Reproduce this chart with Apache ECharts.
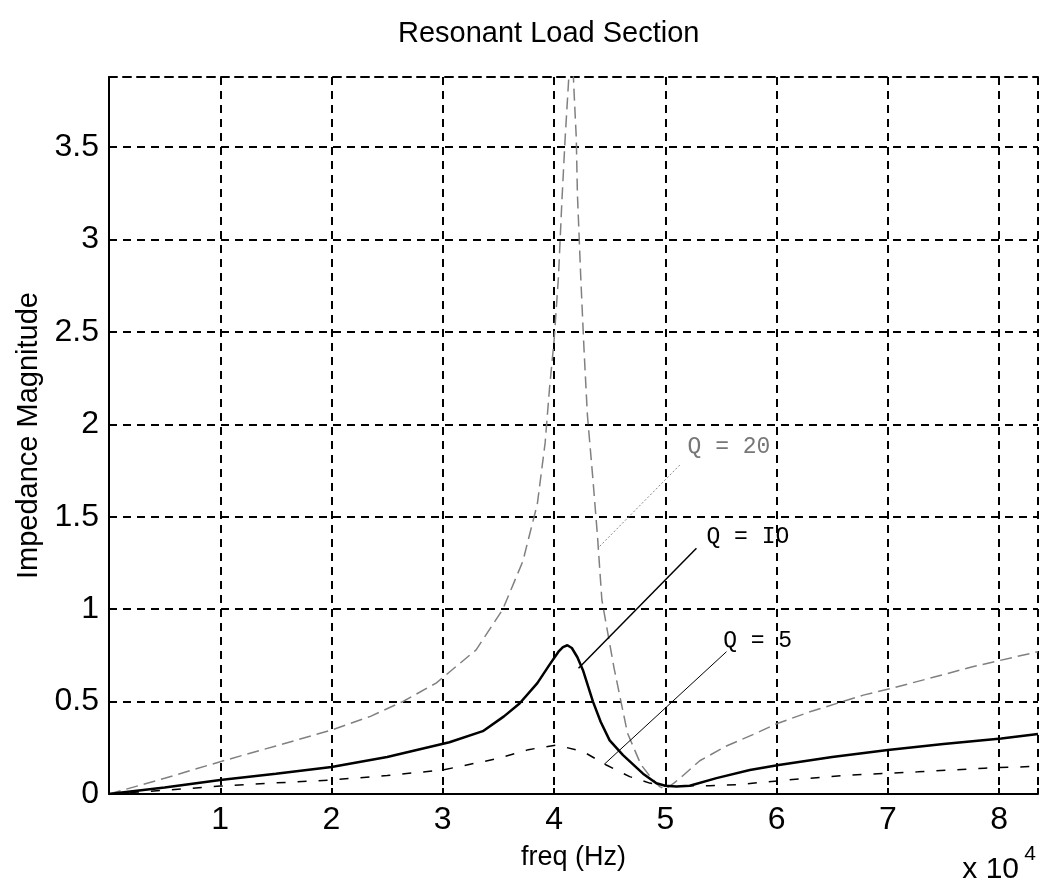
<!DOCTYPE html>
<html>
<head>
<meta charset="utf-8">
<title>Resonant Load Section</title>
<script src="https://cdn.jsdelivr.net/npm/echarts@6/dist/echarts.min.js"></script>
<style>
  html, body { margin: 0; padding: 0; background: #fff; }
  #chart { width: 1047px; height: 891px; }
</style>
</head>
<body>
<div id="chart"></div>
<script>
// freq in units of 1e4 Hz, impedance magnitude
var q20 = [[0,0],[0.5,0.085],[1,0.175],[1.5,0.26],[2,0.346],[2.35,0.42],[2.64,0.5],[2.94,0.6],[3.3,0.78],[3.54,1.0],[3.72,1.26],[3.85,1.57],[3.92,1.9],[3.96,2.2],[4.0,2.45],[4.04,2.8],[4.07,3.2],[4.1,3.55],[4.13,3.85],[4.155,4.15],[4.18,3.8],[4.2,3.55],[4.21,3.25],[4.24,2.8],[4.27,2.4],[4.3,2.05],[4.35,1.7],[4.39,1.4],[4.43,1.05],[4.54,0.68],[4.66,0.33],[4.78,0.16],[4.87,0.09],[4.95,0.04],[5.0,0.025],[5.08,0.06],[5.16,0.1],[5.31,0.18],[5.55,0.26],[5.82,0.33],[6.0,0.38],[6.3,0.445],[6.78,0.535],[7.02,0.57],[7.4,0.63],[7.77,0.69],[8.35,0.77]];
var q10 = [[0,0],[0.5,0.035],[1,0.076],[1.5,0.11],[2,0.146],[2.5,0.2],[3.06,0.28],[3.36,0.34],[3.55,0.42],[3.69,0.49],[3.85,0.6],[3.96,0.7],[4.04,0.77],[4.08,0.795],[4.12,0.805],[4.16,0.79],[4.21,0.74],[4.26,0.67],[4.35,0.5],[4.42,0.39],[4.5,0.29],[4.62,0.21],[4.8,0.11],[4.92,0.058],[5.0,0.045],[5.1,0.04],[5.22,0.045],[5.46,0.086],[5.76,0.13],[6.02,0.157],[6.5,0.2],[7.0,0.238],[7.5,0.27],[8.02,0.3],[8.35,0.325]];
var q5 = [[0,0],[0.5,0.02],[1,0.043],[1.5,0.06],[2,0.076],[2.5,0.1],[3.0,0.13],[3.48,0.19],[3.77,0.24],[4.02,0.265],[4.26,0.23],[4.47,0.157],[4.68,0.094],[4.86,0.059],[5.0,0.045],[5.4,0.045],[5.64,0.05],[6.1,0.076],[6.67,0.103],[7.27,0.12],[7.87,0.14],[8.35,0.15]];

// annotation text and leader lines (data coords)
var labels = ['Q = 20', 'Q = IO', 'Q = 5'];
var labelPos = [[5.2, 1.88], [5.37, 1.39], [5.52, 0.83]];
var leaders = [[[5.13, 1.78], [4.41, 1.34]], [[5.28, 1.33], [4.22, 0.68]], [[5.55, 0.77], [4.45, 0.16]]];

var xTicks = [1, 2, 3, 4, 5, 6, 7, 8];
var yTicks = [0, 0.5, 1, 1.5, 2, 2.5, 3, 3.5];

var font = '"Liberation Sans Narrow", "Liberation Sans", Arial, sans-serif';
var mono = '"Liberation Mono", "DejaVu Sans Mono", monospace';
var labelColors = ['#777777', '#000000', '#000000'];
var leaderStyles = [
  { color: '#888888', width: 1, type: [2, 2] },
  { color: '#000000', width: 1.5, type: 'solid' },
  { color: '#000000', width: 1, type: 'solid' }
];

var chart = echarts.init(document.getElementById('chart'));

function annotSeries(i) {
  return {
    type: 'line',
    data: [],
    silent: true,
    markLine: {
      symbol: 'none',
      silent: true,
      label: { show: false },
      lineStyle: leaderStyles[i],
      data: [[{ coord: leaders[i][0] }, { coord: leaders[i][1] }]]
    },
    markPoint: {
      symbol: 'circle',
      symbolSize: 0,
      silent: true,
      label: {
        show: true,
        position: 'right',
        distance: 0,
        formatter: labels[i],
        fontFamily: mono,
        fontSize: 23,
        color: labelColors[i]
      },
      data: [{ coord: labelPos[i] }]
    }
  };
}

var option = {
  animation: false,
  backgroundColor: '#fff',
  title: {
    text: 'Resonant Load Section',
    left: 393,
    top: 14,
    textStyle: { fontFamily: font, fontWeight: 'normal', fontSize: 29, color: '#000' }
  },
  grid: { left: 109, right: 9, top: 77, bottom: 97 },
  xAxis: [{
    type: 'value',
    min: 0,
    max: 8.35,
    interval: 1,
    name: 'freq (Hz)',
    nameLocation: 'middle',
    nameGap: 50,
    nameTextStyle: { fontFamily: font, fontSize: 27, color: '#000' },
    axisLine: { show: true, lineStyle: { color: '#000', width: 2 } },
    axisTick: { show: true, inside: true, length: 6, lineStyle: { color: '#000', width: 2 } },
    axisLabel: {
      fontFamily: font, fontSize: 32, color: '#000', margin: 10,
      formatter: function (v) { return xTicks.indexOf(v) >= 0 ? String(v) : ''; }
    },
    splitLine: { show: true, lineStyle: { color: '#000', width: 2, type: [8, 6] } }
  }, {
    type: 'value',
    position: 'top',
    min: 0,
    max: 8.35,
    interval: 1,
    axisLine: { show: true, lineStyle: { color: '#000', width: 2, type: [8, 6] } },
    axisTick: { show: true, inside: true, length: 6, lineStyle: { color: '#000', width: 2 } },
    axisLabel: { show: false },
    splitLine: { show: false }
  }],
  yAxis: {
    type: 'value',
    min: 0,
    max: 3.88,
    interval: 0.5,
    name: 'Impedance Magnitude',
    nameLocation: 'middle',
    nameGap: 66,
    nameRotate: 90,
    nameTextStyle: { fontFamily: font, fontSize: 29, color: '#000' },
    axisLine: { show: true, lineStyle: { color: '#000', width: 2 } },
    axisTick: { show: true, inside: true, length: 6, lineStyle: { color: '#000', width: 2 } },
    axisLabel: {
      fontFamily: font, fontSize: 32, color: '#000', margin: 10,
      formatter: function (v) { return yTicks.indexOf(v) >= 0 ? String(v) : ''; }
    },
    splitLine: { show: true, lineStyle: { color: '#000', width: 2, type: [8, 6] } }
  },
  series: [
    {
      name: 'Q = 20', type: 'line', data: q20, showSymbol: false, clip: true,
      lineStyle: { color: '#808080', width: 1.5, type: [12, 6] }
    },
    {
      name: 'Q = 10', type: 'line', data: q10, showSymbol: false, clip: true,
      lineStyle: { color: '#000', width: 2.5, type: 'solid' }
    },
    {
      name: 'Q = 5', type: 'line', data: q5, showSymbol: false, clip: true,
      lineStyle: { color: '#000', width: 1.5, type: [9, 12] }
    },
    annotSeries(0),
    annotSeries(1),
    annotSeries(2)
  ],
  graphic: [
    { type: 'text', right: 28, top: 855, style: { text: 'x 10', fontFamily: font, fontSize: 30, fill: '#000' } },
    { type: 'text', right: 11, top: 844, style: { text: '4', fontFamily: font, fontSize: 21, fill: '#000' } }
  ]
};

chart.setOption(option);
window.addEventListener('resize', function () {
  chart.resize();
});
</script>
</body>
</html>
